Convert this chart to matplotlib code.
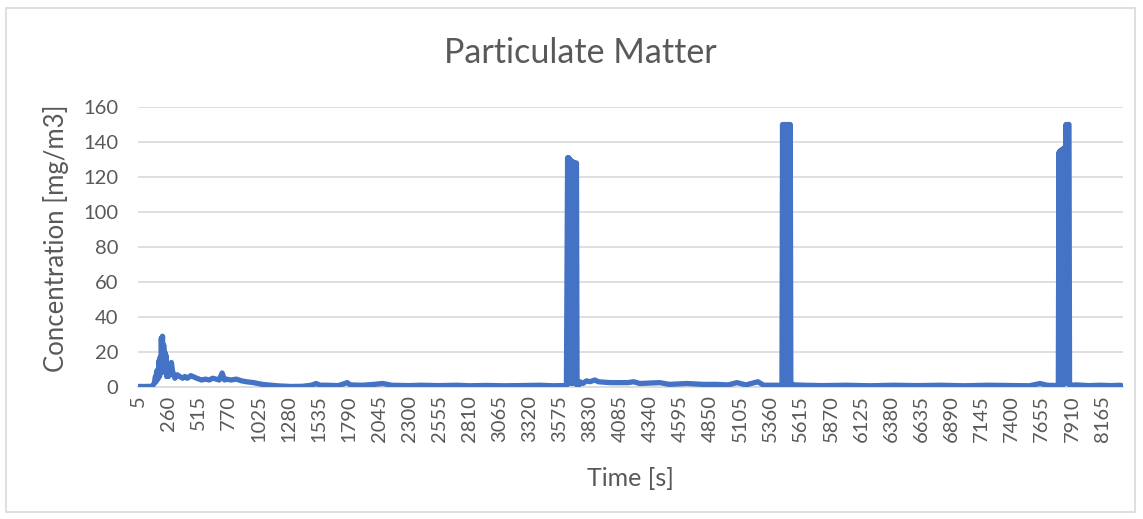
import matplotlib.pyplot as plt
from matplotlib.patches import Rectangle

# time [s] and PM concentration [mg/m3]
timeS = [5, 60, 120, 140, 150, 155, 160, 165, 170, 175, 180, 185, 190, 195,
         200, 205, 210, 215, 220, 225, 230, 235, 240, 245, 250,
         260, 270, 285, 295, 315, 335, 355, 370, 380, 400, 420, 450, 500, 540,
         575, 605, 635, 665, 690, 715, 735, 750, 790, 835, 880, 920, 980, 1055,
         1130, 1200, 1300, 1395, 1470, 1510, 1545, 1600, 1700, 1775, 1800, 1900,
         2000, 2075, 2150, 2300, 2400, 2550, 2700, 2810, 2950, 3100, 3235, 3400,
         3520, 3600, 3630,
         3640, 3645, 3650, 3655, 3660, 3665, 3670, 3675, 3680, 3685, 3690, 3695,
         3700, 3705, 3710, 3715, 3720,
         3730, 3745, 3770, 3800, 3830, 3870, 3900, 4000, 4150, 4200, 4250, 4420,
         4500, 4650, 4785, 4900, 5000, 5073, 5150, 5251, 5300, 5400, 5455,
         5460, 5465, 5470, 5475, 5480, 5485, 5490, 5495, 5500, 5505, 5510, 5515,
         5520, 5525,
         5530, 5560, 5650, 5800, 6000, 6200, 6400, 6600, 6800, 7000, 7200, 7400,
         7550, 7640, 7700, 7795,
         7800, 7805, 7810, 7815, 7820, 7825, 7830, 7835, 7840, 7845, 7850, 7855,
         7860, 7865, 7870, 7875, 7880, 7885,
         7890, 7950, 8050, 8150, 8250, 8320, 8340]
pmConc = [0.3, 0.3, 0.4, 2, 6, 3, 9, 4, 10, 5, 15, 6, 17, 8,
          28, 12, 29, 10, 24, 14, 20, 8, 18, 6, 12,
          6, 7, 14, 9, 5, 7, 6, 5.5, 5, 6, 5, 6.5, 5, 4,
          4.5, 4, 5, 4.5, 4, 8, 4, 4.5, 4, 4.5, 3.5, 3, 2.5, 1.5,
          1, 0.6, 0.3, 0.4, 1, 2, 1, 1, 0.8, 2.5, 1.2, 1,
          1.5, 2, 1, 0.8, 1, 0.8, 1, 0.7, 0.9, 0.7, 0.8, 1,
          0.7, 0.8, 0.6,
          131, 3, 131, 2, 130, 3, 129, 2, 129, 3, 128, 2,
          128, 3, 128, 128, 1,
          0.5, 3, 2, 3.5, 3, 4, 3, 2.5, 2.5, 3, 2, 2.5,
          1.5, 2, 1.5, 1.5, 1.2, 2.5, 1.2, 3, 1, 1, 1,
          150, 2, 150, 1, 150, 2, 150, 1, 150, 2, 150, 1,
          150, 150,
          2, 1.2, 1, 0.8, 1, 0.7, 1, 0.8, 1, 0.7, 1, 0.8,
          0.7, 2, 1, 0.8,
          134, 2, 135, 1, 135, 2, 136, 1, 136, 2, 137, 3,
          150, 2, 150, 3, 150, 150,
          1, 1.2, 0.8, 1, 0.8, 1, 0.5]

tickTimes = list(range(5, 8166, 255))
yTicks = [0, 20, 40, 60, 80, 100, 120, 140, 160]

textColor = '#595959'
plt.rcParams['font.family'] = ['Lato', 'DejaVu Sans']

fig = plt.figure(figsize=(11.43, 5.19), dpi=100)
ax = fig.add_axes([138 / 1143, 1 - 387 / 519, 985 / 1143, 280 / 519])

ax.plot(timeS, pmConc, color='#4472C4', linewidth=3.8,
        solid_joinstyle='round', solid_capstyle='round', zorder=3)

ax.set_xlim(2.5, 8342.5)
ax.set_ylim(0, 160)
ax.set_yticks(yTicks)
ax.set_xticks(tickTimes)
ax.set_xticklabels([str(t) for t in tickTimes], rotation=90)
ax.tick_params(axis='both', length=0, labelsize=14.5, labelcolor=textColor)
ax.tick_params(axis='x', pad=6)
ax.tick_params(axis='y', pad=14)

ax.grid(axis='y', color='#D9D9D9', linewidth=1.2)
for side in ['top', 'right', 'left']:
    ax.spines[side].set_visible(False)
ax.spines['bottom'].set_color('#D9D9D9')
ax.spines['bottom'].set_linewidth(1.2)
ax.set_axisbelow(True)

fig.text(580 / 1143, 1 - 53 / 519, 'Particulate Matter', ha='center',
         va='center', fontsize=24.5, color=textColor)
fig.text(630 / 1143, 1 - 478 / 519, 'Time [s]', ha='center', va='center',
         fontsize=18, color=textColor)
fig.text(56 / 1143, 1 - 238 / 519, 'Concentration [mg/m3]', ha='center',
         va='center', rotation=90, fontsize=18.5, color=textColor)

fig.patches.append(Rectangle((6 / 1143, 1 - 512 / 519), 1129 / 1143, 504 / 519,
                             transform=fig.transFigure, fill=False,
                             edgecolor='#D9D9D9', linewidth=1.2))

fig.savefig('out.png', dpi=100)
